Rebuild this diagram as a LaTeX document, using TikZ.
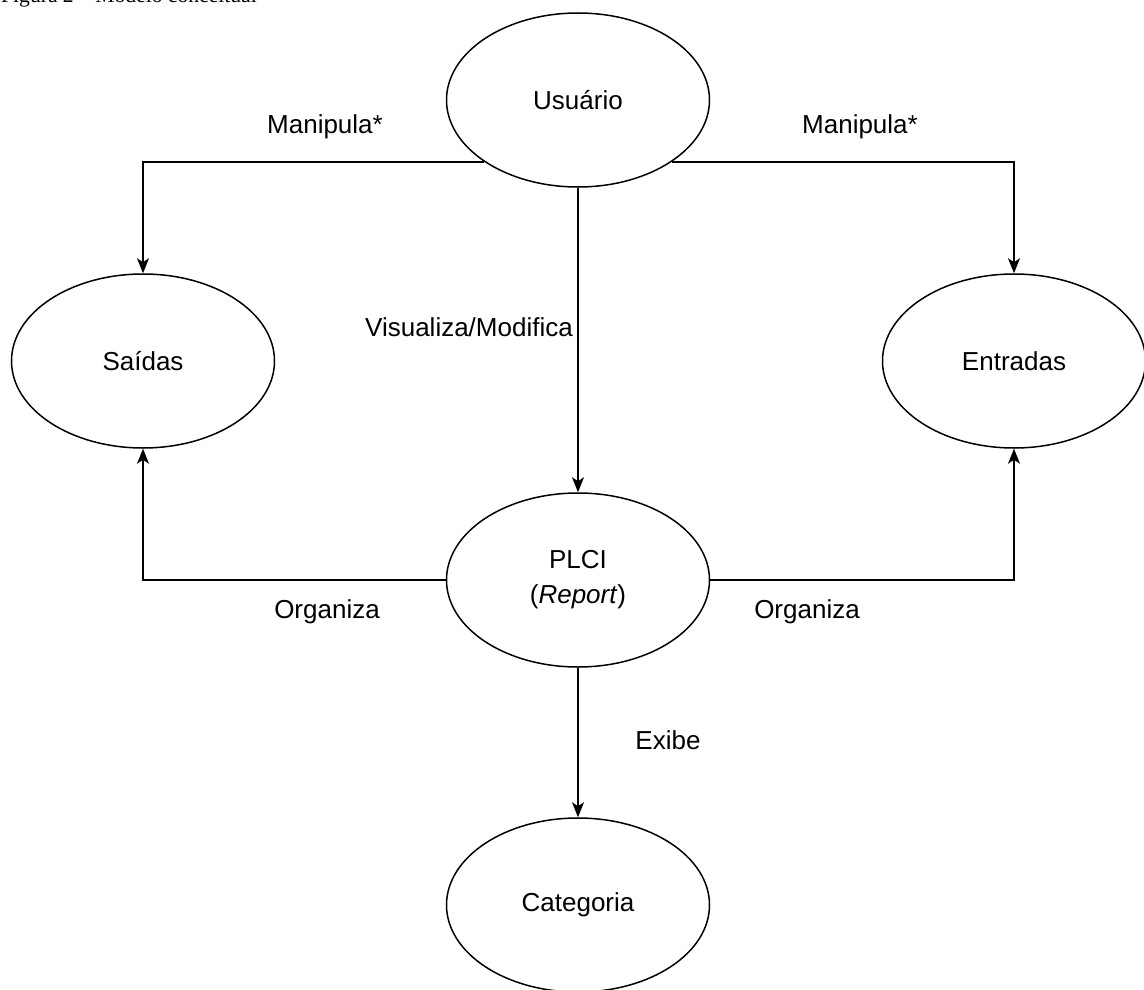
\documentclass[tikz,border=0pt]{standalone}
\usepackage{fontspec}
\setmainfont{Liberation Sans}
\newfontfamily\capfont{Liberation Serif}
\usetikzlibrary{shapes.geometric,arrows.meta}
\begin{document}
\begin{tikzpicture}[x=1pt,y=-1pt,
  ent/.style={ellipse,draw,line width=1.5pt,minimum width=263pt,minimum height=174pt,inner sep=0pt,
    font=\fontsize{26}{35}\selectfont,align=center},
  conn/.style={draw,line width=1.5pt,-{Stealth[length=15pt,width=12pt,inset=4pt]}},
  lbl/.style={font=\fontsize{26}{30}\selectfont,inner sep=0pt}]
\useasboundingbox (0,0) rectangle (1144,990);
\node[anchor=base west,font=\capfont\fontsize{21.6}{26}\selectfont,inner sep=0pt] (cap) at (1,3) {Figura 2 – Modelo conceitual};
\node[ent] (usr) at (578,100) {Usuário};
\node[ent] (sai) at (143,361) {Saídas};
\node[ent] (ent) at (1014,361) {Entradas};
\node[ent] (plci) at (578,580) {PLCI\\(\textit{Report})};
\node[ent] (cat) at (578,905) {Categoria};
\draw[conn] (usr.south west) -| (sai);
\draw[conn] (usr.south east) -| (ent);
\draw[conn] (usr) -- (plci);
\draw[conn] (plci.west) -| (sai);
\draw[conn] (plci.east) -| (ent);
\draw[conn] (plci) -- (cat);
\node[lbl] (l1) at (325,127) {Manipula*};
\node[lbl] (l2) at (860,127) {Manipula*};
\node[lbl,anchor=east] (l3) at (573,327) {Visualiza/Modifica};
\node[lbl] (l4) at (327,612) {Organiza};
\node[lbl] (l5) at (807,612) {Organiza};
\node[lbl] (l6) at (668,740) {Exibe};
\end{tikzpicture}
\end{document}
